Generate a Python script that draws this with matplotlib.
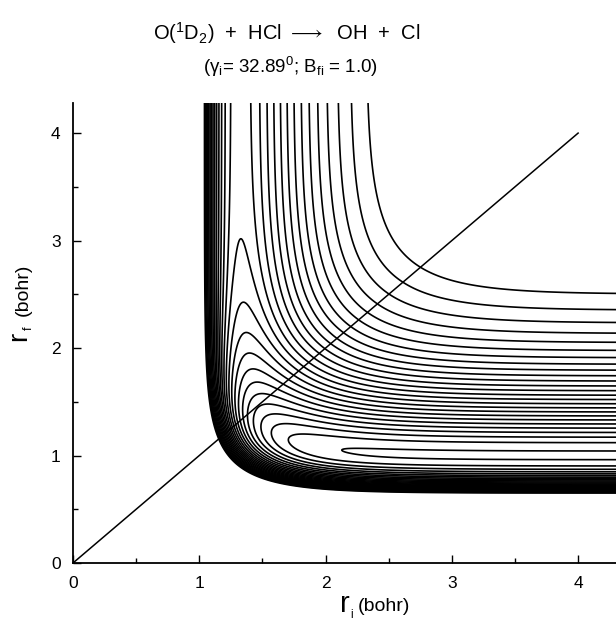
import numpy as np
import matplotlib
matplotlib.use("Agg")
import matplotlib.pyplot as plt

plt.rcParams["font.family"] = ["Liberation Sans", "DejaVu Sans"]
plt.rcParams["mathtext.fontset"] = "custom"
plt.rcParams["mathtext.rm"] = "Liberation Sans"
plt.rcParams["mathtext.it"] = "Liberation Sans:italic"
plt.rcParams["mathtext.bf"] = "Liberation Sans:bold"

# Model surface in skewed bond coordinates (bohr), energies in units of D(HCl)
RI_EQ, RF_EQ = 1.32, 1.00          # equilibrium distances, reactant / product
ALPHA_I, ALPHA_F = 2.3, 1.9        # Morse range parameters
DEPTH_I, DEPTH_F = 1.0, 1.7        # well depths (product channel deeper)
COUPLING = 2.0                     # three-body term, lifts the corner well

# contour levels, equally spaced from the top L-shaped line downwards
TOP_LEVEL = -0.19
LEVEL_STEP = 0.06
N_LEVELS = 26
EXTRA_LEVELS = [-1.69]             # shallow tongue far out in the exit valley

X_TICKS = [0, 1, 2, 3, 4]
Y_TICKS = [0, 1, 2, 3, 4]
X_LIM = (0, 4.3)
Y_LIM = (0, 4.28)
DIAGONAL = [0, 4]


def surface(ri, rf):
    u = np.exp(-ALPHA_I * (ri - RI_EQ))
    v = np.exp(-ALPHA_F * (rf - RF_EQ))
    v_i = DEPTH_I * (u ** 2 - 2.0 * u)
    v_f = DEPTH_F * (v ** 2 - 2.0 * v)
    return v_i + v_f + COUPLING * u * v


ri = np.linspace(0.6, 4.5, 1000)
rf = np.linspace(0.5, 4.5, 1000)
RI, RF = np.meshgrid(ri, rf)
V = surface(RI, RF)
levels = np.unique(np.round(np.concatenate(
    [TOP_LEVEL - LEVEL_STEP * np.arange(N_LEVELS), EXTRA_LEVELS]), 4))

fig = plt.figure(figsize=(6.16, 6.21), dpi=100)
ax = fig.add_axes([73 / 616, 58 / 621, 543 / 616, 460 / 621])

ax.contour(RI, RF, V, levels=levels, colors="black", linewidths=1.2,
           linestyles="solid")
ax.plot(DIAGONAL, DIAGONAL, color="black", lw=1.1)

ax.set_xlim(*X_LIM)
ax.set_ylim(*Y_LIM)
ax.set_xticks(X_TICKS)
ax.set_yticks(Y_TICKS)
ax.set_xticks(np.arange(0.5, 4.3, 1.0), minor=True)
ax.set_yticks(np.arange(0.5, 4.28, 1.0), minor=True)
ax.tick_params(which="both", direction="in", width=1.0, labelsize=12.5)
ax.tick_params(which="major", length=6)
ax.tick_params(which="minor", length=3.5)
ax.tick_params(axis="x", pad=9)
ax.tick_params(axis="y", pad=9)
for side in ("top", "right"):
    ax.spines[side].set_visible(False)
for side in ("left", "bottom"):
    ax.spines[side].set_linewidth(1.3)

# titles
fig.text(287 / 616, 1 - 33 / 621, r"O($^1$D$_2$)  +  HCl $\longrightarrow$  OH  +  Cl",
         ha="center", va="center", fontsize=14.5)
fig.text(290 / 616, 1 - 67 / 621, r"(γ$_{\rm i}$= 32.89$^{0}$; B$_{\rm fi}$ = 1.0)",
         ha="center", va="center", fontsize=13.5)

# axis labels: large symbol, small subscript, unit in brackets
fig.text(340 / 616, 1 - 612 / 621, "r", fontsize=21, ha="left", va="baseline")
fig.text(350.5 / 616, 1 - 618 / 621, "i", fontsize=8.5, ha="left", va="baseline")
fig.text(358 / 616, 1 - 611 / 621, "(bohr)", fontsize=14, ha="left", va="baseline")

fig.text(26 / 616, 1 - 341 / 621, "r", fontsize=20, rotation=90,
         rotation_mode="anchor", ha="left", va="baseline")
fig.text(32 / 616, 1 - 330 / 621, "f", fontsize=9, rotation=90,
         rotation_mode="anchor", ha="left", va="baseline")
fig.text(28 / 616, 1 - 316 / 621, "(bohr)", fontsize=14, rotation=90,
         rotation_mode="anchor", ha="left", va="baseline")

fig.savefig("out.png", dpi=100)
